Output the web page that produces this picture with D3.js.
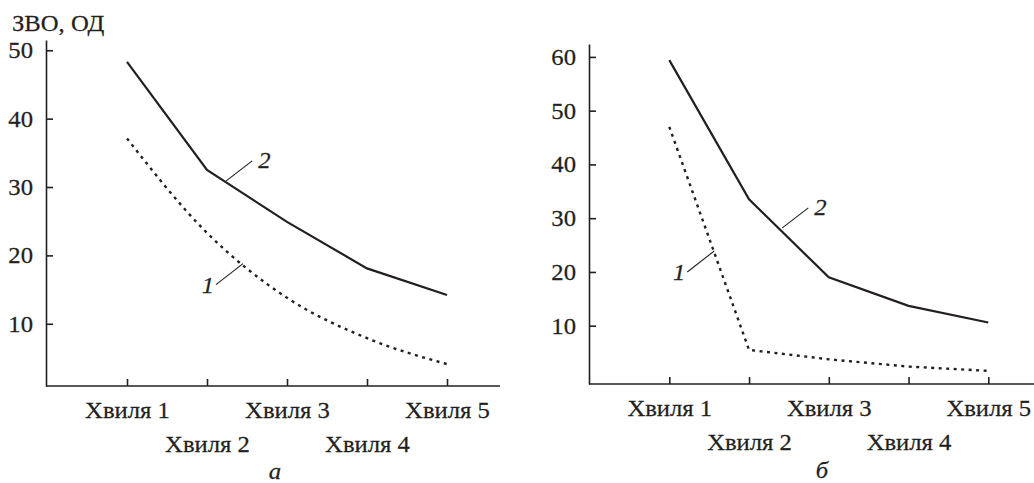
<!DOCTYPE html>
<html>
<head>
<meta charset="utf-8">
<script src="https://cdn.jsdelivr.net/npm/d3@7"></script>
<style>
  body { margin: 0; background: #fff; }
  svg { display: block; }
  text { font-family: "Liberation Serif", "Times New Roman", serif; fill: #231f20; }
</style>
</head>
<body>
<svg id="chart" width="1034" height="483"></svg>
<script>
// ---- data ----
const categories = ["Хвиля 1", "Хвиля 2", "Хвиля 3", "Хвиля 4", "Хвиля 5"];
const waveIndex = [1, 2, 3, 4, 5];

const aSeries1 = [37.1, 23.3, 13.8, 7.9, 4.1];   // dotted, curve 1, panel a
const aSeries2 = [48.3, 32.5, 24.9, 18.1, 14.2]; // solid, curve 2, panel a
const aTicks = [10, 20, 30, 40, 50];
const aDomain = [0.9, 51.5];

const bSeries1 = [47.0, 5.5, 3.75, 2.4, 1.6];    // dotted, curve 1, panel б
const bSeries2 = [59.4, 33.5, 19.0, 13.7, 10.6]; // solid, curve 2, panel б
const bTicks = [10, 20, 30, 40, 50, 60];
const bDomain = [-0.84, 62.4];

const yTitle = "ЗВО, ОД";
const panelCaptions = ["а", "б"];
// annotation anchors (wave index, value) for labels "1" and "2"
const aLabel1 = [2.45, 18.8];
const aLabel2 = [2.24, 30.9];
const bLabel1 = [1.564, 23.9];
const bLabel2 = [2.417, 28.2];

// ---- drawing ----
const FS = 23.5, SX = 1.05, INK = "#231f20";
const svg = d3.select("#chart");

function styleText(sel) {
  sel.attr("font-size", FS).attr("fill", INK).attr("font-family", "Liberation Serif")
    .attr("stroke", INK).attr("stroke-width", 0.25);
}

function panel(cfg) {
  const g = svg.append("g");
  const x = d3.scaleLinear().domain([1, 5]).range(cfg.xr);
  const y = d3.scaleLinear().domain(cfg.domain).range([cfg.bottom, cfg.top]);

  // x axis line spanning the full plot width
  g.append("line")
    .attr("x1", cfg.left).attr("x2", cfg.right)
    .attr("y1", cfg.bottom).attr("y2", cfg.bottom)
    .attr("stroke", INK).attr("stroke-width", 1.6);

  const yAxis = g.append("g").attr("transform", `translate(${cfg.left},0)`)
    .call(d3.axisLeft(y).tickValues(cfg.ticks).tickSizeInner(-7).tickSizeOuter(0).tickPadding(13));
  yAxis.select(".domain").attr("stroke", INK).attr("stroke-width", 1.6);
  yAxis.selectAll(".tick line").attr("stroke", INK).attr("stroke-width", 1.6);
  yAxis.selectAll(".tick text")
    .attr("x", null).attr("dy", null)
    .attr("transform", `translate(-13,7.5) scale(${SX},1)`)
    .call(styleText);

  const xAxis = g.append("g").attr("transform", `translate(0,${cfg.bottom})`)
    .call(d3.axisBottom(x).tickValues(waveIndex).tickFormat((d, i) => categories[i])
      .tickSizeInner(-7).tickSizeOuter(0).tickPadding(0));
  xAxis.select(".domain").remove();
  xAxis.selectAll(".tick line").attr("stroke", INK).attr("stroke-width", 1.6);
  xAxis.selectAll(".tick text")
    .attr("y", null).attr("dy", null)
    .attr("transform", (d, i) => `translate(0,${i % 2 === 0 ? 32 : 66}) scale(${SX},1)`)
    .call(styleText);

  const line = d3.line().x((d, i) => x(waveIndex[i])).y(d => y(d));
  g.append("path").datum(cfg.s2)
    .attr("d", line).attr("fill", "none").attr("stroke", INK).attr("stroke-width", 2.2);
  g.append("path").datum(cfg.s1)
    .attr("d", line.curve(cfg.curve1)).attr("fill", "none").attr("stroke", INK)
    .attr("stroke-width", 2.4).attr("stroke-dasharray", "3,4.5");

  // annotation "2": leader goes up-right from the curve
  const p2 = [x(cfg.l2[0]), y(cfg.l2[1])];
  g.append("line").attr("x1", p2[0]).attr("y1", p2[1])
    .attr("x2", p2[0] + 26).attr("y2", p2[1] - 20)
    .attr("stroke", INK).attr("stroke-width", 1.1);
  g.append("text").text("2").attr("font-style", "italic").call(styleText)
    .attr("transform", `translate(${p2[0] + 32},${p2[1] - 13}) scale(${SX},1)`);

  // annotation "1": leader goes down-left from the curve
  const p1 = [x(cfg.l1[0]), y(cfg.l1[1])];
  g.append("line").attr("x1", p1[0]).attr("y1", p1[1])
    .attr("x2", p1[0] - 27).attr("y2", p1[1] + 21)
    .attr("stroke", INK).attr("stroke-width", 1.1);
  g.append("text").text("1").attr("font-style", "italic").call(styleText)
    .attr("text-anchor", "end")
    .attr("transform", `translate(${p1[0] - 29},${p1[1] + 29}) scale(${SX},1)`);

  // caption
  g.append("text").text(cfg.caption).attr("font-style", "italic").call(styleText)
    .attr("text-anchor", "middle")
    .attr("transform", `translate(${cfg.capX},${cfg.capY}) scale(${SX},1)`);
  return g;
}

panel({ left: 46, right: 500, top: 40, bottom: 386, xr: [127, 447],
  domain: aDomain, ticks: aTicks, s1: aSeries1, s2: aSeries2, curve1: d3.curveMonotoneX,
  l1: aLabel1, l2: aLabel2, caption: panelCaptions[0], capX: 275, capY: 479 });
panel({ left: 589, right: 1034, top: 44, bottom: 384, xr: [669.3, 988.3],
  domain: bDomain, ticks: bTicks, s1: bSeries1, s2: bSeries2, curve1: d3.curveLinear,
  l1: bLabel1, l2: bLabel2, caption: panelCaptions[1], capX: 822, capY: 478 });

svg.append("text").text(yTitle).call(styleText)
  .attr("transform", `translate(12,31) scale(${SX},1)`);
</script>
</body>
</html>
